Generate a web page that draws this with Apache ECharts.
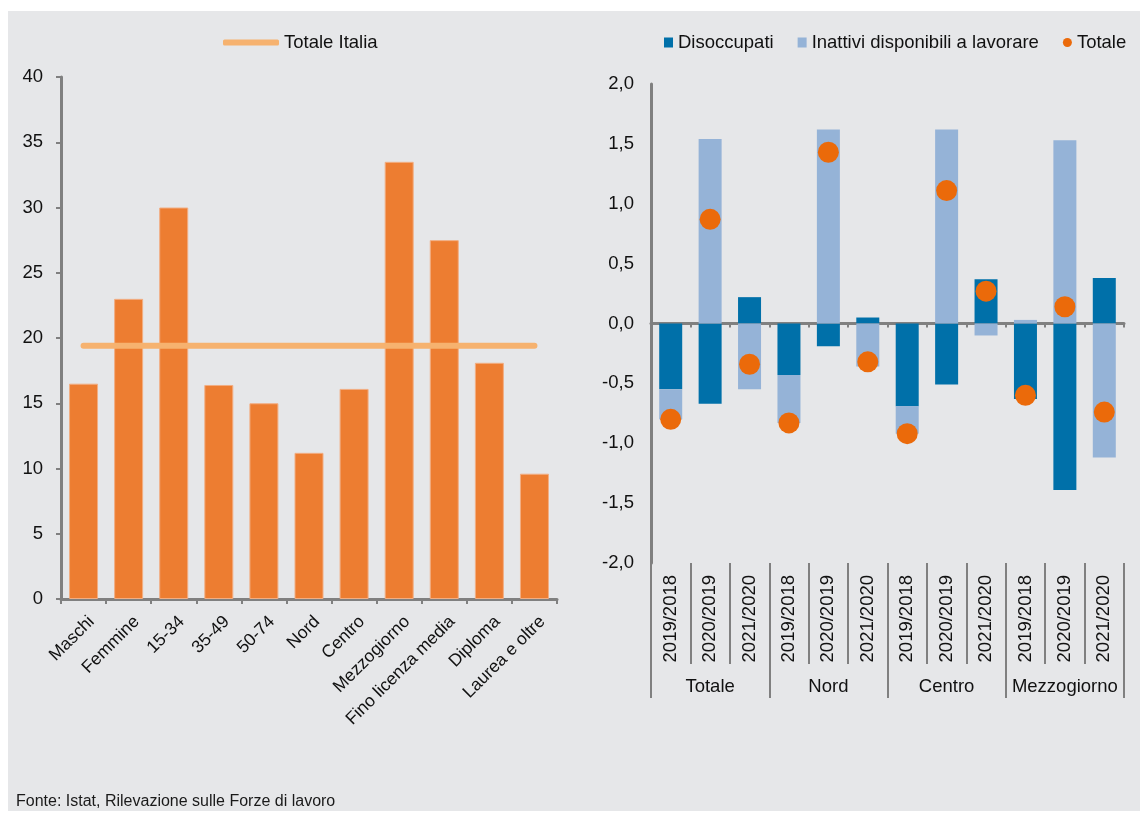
<!DOCTYPE html>
<html>
<head>
<meta charset="utf-8">
<script src="https://cdn.jsdelivr.net/npm/echarts@6/dist/echarts.min.js"></script>
<style>
  html, body { margin: 0; padding: 0; background: #ffffff; }
  #bg { position: absolute; left: 8px; top: 11px; width: 1132px; height: 800px; background: #E6E7E9; }
  #chart { position: absolute; left: 0; top: 0; width: 1145px; height: 813px; }
  #note { position: absolute; left: 16px; top: 792px; font-family: 'Liberation Sans Narrow', 'Liberation Sans', Arial, sans-serif; font-size: 16px; color: #1a1a1a; }
</style>
</head>
<body>
<div id="bg"></div>
<div id="chart"></div>
<div id="note">Fonte: Istat, Rilevazione sulle Forze di lavoro</div>
<script>
// Left panel
const leftCategories = ['Maschi', 'Femmine', '15-34', '35-49', '50-74', 'Nord', 'Centro', 'Mezzogiorno', 'Fino licenza media', 'Diploma', 'Laurea e oltre'];
const leftValues = [16.5, 23.0, 30.0, 16.4, 15.0, 11.2, 16.1, 33.5, 27.5, 18.1, 9.6];
const totaleItalia = [19.4, 19.4, 19.4, 19.4, 19.4, 19.4, 19.4, 19.4, 19.4, 19.4, 19.4];
const leftTicks = { min: 0, max: 40, interval: 5 };

// Right panel
const periods = ['2019/2018', '2020/2019', '2021/2020', '2019/2018', '2020/2019', '2021/2020', '2019/2018', '2020/2019', '2021/2020', '2019/2018', '2020/2019', '2021/2020'];
const groups = ['Totale', 'Nord', 'Centro', 'Mezzogiorno'];
const disoccupati = [-0.55, -0.67, 0.22, -0.43, -0.19, 0.05, -0.69, -0.51, 0.37, -0.63, -1.39, 0.38];
const inattivi = [-0.25, 1.54, -0.55, -0.40, 1.62, -0.36, -0.23, 1.62, -0.10, 0.03, 1.53, -1.12];
const totale = [-0.80, 0.87, -0.34, -0.83, 1.43, -0.32, -0.92, 1.11, 0.27, -0.60, 0.14, -0.74];
const rightTicks = { min: -2, max: 2, interval: 0.5 };

const FONT = "'Liberation Sans', Arial, sans-serif";
const AXIS = '#808080';
const TXT = '#111111';
const FS = 18.5;

const chart = echarts.init(document.getElementById('chart'), null, { renderer: 'canvas' });

const L = { left: 61, top: 77, width: 496, height: 522 };
const R = { left: 651, top: 84, width: 473, height: 479 };

const option = {
  backgroundColor: 'transparent',
  animation: false,
  textStyle: { fontFamily: FONT },
  legend: [
    {
      left: 223, top: 33, padding: 0,
      itemWidth: 56, itemHeight: 6,
      textStyle: { fontSize: FS, color: TXT, fontFamily: FONT },
      data: [{ name: 'Totale Italia', icon: 'roundRect' }]
    },
    {
      left: 664, top: 33, padding: 0,
      itemWidth: 9, itemHeight: 10, itemGap: 24,
      textStyle: { fontSize: FS, color: TXT, fontFamily: FONT },
      data: [
        { name: 'Disoccupati', icon: 'rect' },
        { name: 'Inattivi disponibili a lavorare', icon: 'rect' },
        { name: 'Totale', icon: 'circle' }
      ]
    }
  ],
  grid: [
    { left: L.left, top: L.top, width: L.width, height: L.height },
    { left: R.left, top: R.top, width: R.width, height: R.height },
    { left: L.left + 8, top: L.top, width: L.width, height: L.height }
  ],
  xAxis: [
    {
      type: 'category', gridIndex: 0, data: leftCategories,
      axisLine: { lineStyle: { color: AXIS, width: 3 } },
      axisTick: { show: true, interval: 0, length: 5, lineStyle: { color: AXIS, width: 2 } },
      axisLabel: { show: false }
    },
    {
      type: 'category', gridIndex: 1, data: periods,
      axisLine: { onZero: true, lineStyle: { color: AXIS, width: 3 } },
      axisTick: { show: true, interval: 0, length: 4, lineStyle: { color: AXIS, width: 2 } },
      axisLabel: { show: false }
    },
    {
      type: 'category', gridIndex: 1, data: periods, position: 'bottom',
      axisLine: { show: false, onZero: false },
      axisTick: { show: true, interval: 0, length: 101, lineStyle: { color: AXIS, width: 2 } },
      axisLabel: { show: true, interval: 0, rotate: 90, margin: 12, fontSize: FS, color: TXT, fontFamily: FONT }
    },
    {
      type: 'category', gridIndex: 1, data: groups, position: 'bottom',
      axisLine: { show: false, onZero: false },
      axisTick: { show: true, interval: 0, length: 135, lineStyle: { color: AXIS, width: 2 } },
      axisLabel: { show: true, interval: 0, margin: 114, fontSize: FS, color: TXT, fontFamily: FONT }
    },
    {
      type: 'category', gridIndex: 2, data: leftCategories,
      axisLine: { show: false }, axisTick: { show: false },
      axisLabel: { show: true, interval: 0, rotate: 45, margin: 20, fontSize: 17.5, color: TXT, fontFamily: FONT }
    }
  ],
  yAxis: [
    {
      type: 'value', gridIndex: 0, min: leftTicks.min, max: leftTicks.max, interval: leftTicks.interval,
      axisLine: { show: true, lineStyle: { color: AXIS, width: 3 } },
      axisTick: { show: true, length: 5, lineStyle: { color: AXIS, width: 2 } },
      splitLine: { show: false },
      axisLabel: { margin: 18, fontSize: FS, color: TXT, fontFamily: FONT }
    },
    {
      type: 'value', gridIndex: 1, min: rightTicks.min, max: rightTicks.max, interval: rightTicks.interval,
      axisLine: { show: true, lineStyle: { color: AXIS, width: 3 } },
      axisTick: { show: false },
      splitLine: { show: false },
      axisLabel: {
        margin: 17, fontSize: FS, color: TXT, fontFamily: FONT,
        formatter: v => v.toFixed(1).replace('.', ',')
      }
    },
    {
      type: 'value', gridIndex: 2, min: leftTicks.min, max: leftTicks.max, show: false
    }
  ],
  series: [
    {
      name: 'Valori', type: 'bar', xAxisIndex: 0, yAxisIndex: 0,
      data: leftValues, barWidth: 29,
      itemStyle: { color: '#ED7D31', borderColor: '#F2AE83', borderWidth: 1 }
    },
    {
      name: 'Totale Italia', type: 'line', xAxisIndex: 0, yAxisIndex: 0,
      data: totaleItalia, symbol: 'none',
      lineStyle: { color: '#F6B26F', width: 6, cap: 'round' },
      itemStyle: { color: '#F6B26F' }, z: 5
    },
    {
      name: 'Disoccupati', type: 'bar', xAxisIndex: 1, yAxisIndex: 1, stack: 'r',
      data: disoccupati, barWidth: 23,
      itemStyle: { color: '#0070A9' }
    },
    {
      name: 'Inattivi disponibili a lavorare', type: 'bar', xAxisIndex: 1, yAxisIndex: 1, stack: 'r',
      data: inattivi, barWidth: 23,
      itemStyle: { color: '#95B3D7' }
    },
    {
      name: 'Totale', type: 'scatter', xAxisIndex: 1, yAxisIndex: 1,
      data: totale, symbol: 'circle', symbolSize: 21,
      itemStyle: { color: '#EB6A0A', opacity: 1 }, z: 5
    }
  ]
};
chart.setOption(option);
</script>
</body>
</html>
